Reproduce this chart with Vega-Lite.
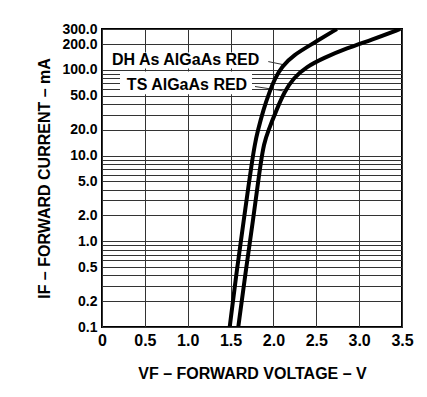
{
  "$schema": "https://vega.github.io/schema/vega-lite/v6.json",
  "autosize": {"type": "none"},
  "width": 300,
  "height": 298,
  "padding": {"left": 102, "top": 29, "right": 25, "bottom": 70},
  "background": "white",
  "config": {
    "font": "Liberation Sans",
    "view": {"stroke": "#000", "strokeWidth": 2},
    "axis": {"gridColor": "#333", "gridWidth": 1, "gridOpacity": 1, "domain": false, "ticks": false, "labelFont": "Liberation Sans", "labelFontWeight": "bold", "labelColor": "#000", "titleFont": "Liberation Sans", "titleFontWeight": "bold", "titleColor": "#000", "titleFontSize": 16}
  },
  "datasets": {
    "curves": [
      {"series": "DH", "v": 1.49, "i": 0.1},
      {"series": "DH", "v": 1.577, "i": 0.5},
      {"series": "DH", "v": 1.66, "i": 1.94},
      {"series": "DH", "v": 1.708, "i": 4.34},
      {"series": "DH", "v": 1.747, "i": 8.1},
      {"series": "DH", "v": 1.785, "i": 13.9},
      {"series": "DH", "v": 1.815, "i": 19},
      {"series": "DH", "v": 1.885, "i": 35},
      {"series": "DH", "v": 1.955, "i": 55.7},
      {"series": "DH", "v": 2.018, "i": 79.8},
      {"series": "DH", "v": 2.097, "i": 109},
      {"series": "DH", "v": 2.232, "i": 149},
      {"series": "DH", "v": 2.465, "i": 204},
      {"series": "DH", "v": 2.74, "i": 300},
      {"series": "TS", "v": 1.59, "i": 0.1},
      {"series": "TS", "v": 1.683, "i": 0.5},
      {"series": "TS", "v": 1.768, "i": 1.94},
      {"series": "TS", "v": 1.814, "i": 4.34},
      {"series": "TS", "v": 1.851, "i": 8.1},
      {"series": "TS", "v": 1.89, "i": 13.9},
      {"series": "TS", "v": 1.935, "i": 19},
      {"series": "TS", "v": 2.04, "i": 35},
      {"series": "TS", "v": 2.13, "i": 55.7},
      {"series": "TS", "v": 2.232, "i": 80},
      {"series": "TS", "v": 2.388, "i": 109},
      {"series": "TS", "v": 2.582, "i": 137},
      {"series": "TS", "v": 2.855, "i": 179},
      {"series": "TS", "v": 3.15, "i": 225},
      {"series": "TS", "v": 3.48, "i": 300}
    ],
    "boxes": [
      {"v1": 0.1, "v2": 1.9, "i1": 104, "i2": 160},
      {"v1": 0.21, "v2": 1.75, "i1": 52, "i2": 96}
    ],
    "labels": [
      {"text": "DH As AlGaAs RED", "v": 0.117, "i": 130},
      {"text": "TS AlGaAs RED", "v": 0.29, "i": 66}
    ],
    "leaders": [
      {"v1": 1.94, "i1": 125, "v2": 2.135, "i2": 114},
      {"v1": 1.785, "i1": 64, "v2": 2.11, "i2": 57}
    ]
  },
  "layer": [
    {
      "data": {"name": "boxes"},
      "mark": {"type": "rect", "fill": "white"},
      "encoding": {
        "x": {"field": "v1", "type": "quantitative", "scale": {"domain": [0, 3.5], "nice": false, "zero": false},
          "axis": {"values": [0, 0.5, 1, 1.5, 2, 2.5, 3, 3.5], "labelExpr": "datum.value == 0 ? '0' : format(datum.value, '.1f')", "labelFontSize": 16, "labelFlush": false, "labelOverlap": false, "labelPadding": 5, "title": "VF – FORWARD VOLTAGE – V", "titlePadding": 17}},
        "x2": {"field": "v2"},
        "y": {"field": "i1", "type": "quantitative", "scale": {"type": "log", "domain": [0.1, 300], "nice": false},
          "axis": {"values": [0.1, 0.2, 0.3, 0.4, 0.5, 0.6, 0.7, 0.8, 0.9, 1, 2, 3, 4, 5, 6, 7, 8, 9, 10, 20, 30, 40, 50, 60, 70, 80, 90, 100, 200, 300],
            "labelExpr": "indexof([0.1, 0.2, 0.5, 1, 2, 5, 10, 20, 50, 100, 200, 300], datum.value) >= 0 ? format(datum.value, '.1f') : ''",
            "labelFontSize": 14, "labelOverlap": false, "labelFlush": false, "labelPadding": 5, "title": "IF – FORWARD CURRENT – mA", "titlePadding": 9}},
        "y2": {"field": "i2"}
      }
    },
    {
      "data": {"name": "leaders"},
      "mark": {"type": "rule", "color": "#333", "strokeWidth": 1},
      "encoding": {
        "x": {"field": "v1", "type": "quantitative"},
        "x2": {"field": "v2"},
        "y": {"field": "i1", "type": "quantitative"},
        "y2": {"field": "i2"}
      }
    },
    {
      "data": {"name": "curves"},
      "mark": {"type": "line", "color": "#000", "strokeWidth": 4, "interpolate": "basis", "clip": true},
      "encoding": {
        "x": {"field": "v", "type": "quantitative"},
        "y": {"field": "i", "type": "quantitative"},
        "detail": {"field": "series"}
      }
    },
    {
      "data": {"name": "labels"},
      "mark": {"type": "text", "align": "left", "baseline": "middle", "font": "Liberation Sans", "fontWeight": "bold", "fontSize": 16, "color": "#000"},
      "encoding": {
        "x": {"field": "v", "type": "quantitative"},
        "y": {"field": "i", "type": "quantitative"},
        "text": {"field": "text"}
      }
    }
  ]
}
